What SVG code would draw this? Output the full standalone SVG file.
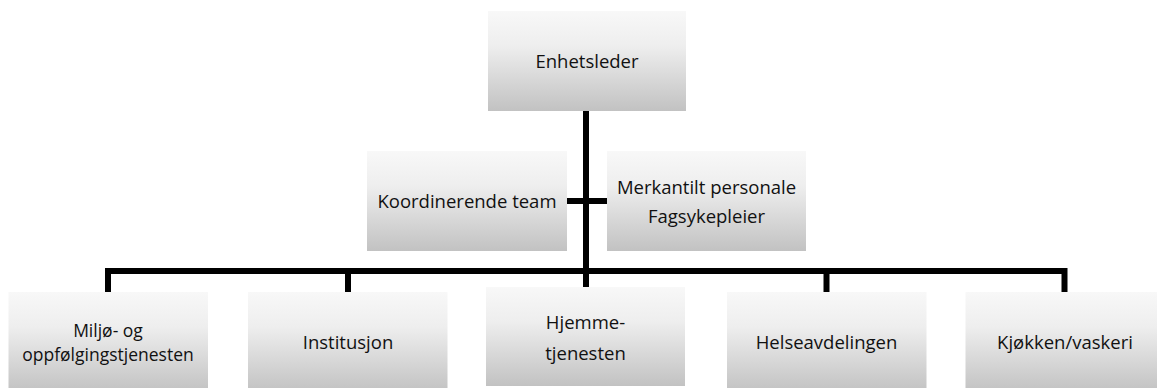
<svg xmlns="http://www.w3.org/2000/svg" width="1157" height="388" viewBox="0 0 1157 388">
<defs>
<linearGradient id="g" x1="0" y1="0" x2="0" y2="1">
<stop offset="0" stop-color="#f8f8f8"/>
<stop offset="0.35" stop-color="#eeeeee"/>
<stop offset="1" stop-color="#c2c2c2"/>
</linearGradient>
<style>
.box{fill:url(#g);stroke:none}
.t{font-family:"Open Sans","Liberation Sans",sans-serif;font-size:18.5px;fill:#111;text-anchor:middle}
.s{font-size:17.5px}
.c{fill:none;stroke:#000;stroke-width:6;stroke-linejoin:miter;stroke-linecap:butt}
</style>
</defs>
<rect width="1157" height="388" fill="#fff"/>
<g id="connectors">
<path class="c" d="M586,111 V287"/>
<path class="c" d="M567,201 H607" stroke-width="5"/>
<path class="c" d="M108,292 V271 H1064.5 V292"/>
<path class="c" d="M348,271 V292"/>
<path class="c" d="M826.5,271 V292"/>
</g>
<g id="enhetsleder">
<rect class="box" x="488" y="11" width="198" height="100"/>
<text class="t" x="587" y="68">Enhetsleder</text>
</g>
<g id="koordinerende">
<rect class="box" x="367" y="151" width="200" height="100"/>
<text class="t" x="467" y="208">Koordinerende team</text>
</g>
<g id="merkantilt">
<rect class="box" x="607" y="151" width="199" height="100"/>
<text class="t" x="706.5" y="194">Merkantilt personale</text>
<text class="t" x="706.5" y="222.5">Fagsykepleier</text>
</g>
<g id="miljo">
<rect class="box" x="8.5" y="292" width="199.5" height="100"/>
<text class="t s" x="108" y="336.5">Miljø- og</text>
<text class="t s" x="108" y="360.5">oppfølgingstjenesten</text>
</g>
<g id="institusjon">
<rect class="box" x="248" y="292" width="199.5" height="100"/>
<text class="t" x="348" y="349">Institusjon</text>
</g>
<g id="hjemme">
<rect class="box" x="486" y="287" width="199" height="99"/>
<text class="t" x="585.5" y="328.5">Hjemme-</text>
<text class="t" x="585.5" y="360">tjenesten</text>
</g>
<g id="helse">
<rect class="box" x="727" y="292" width="199.5" height="100"/>
<text class="t" x="826.5" y="349">Helseavdelingen</text>
</g>
<g id="kjokken">
<rect class="box" x="965.5" y="292" width="199.5" height="100"/>
<text class="t" x="1065" y="349">Kjøkken/vaskeri</text>
</g>
</svg>
